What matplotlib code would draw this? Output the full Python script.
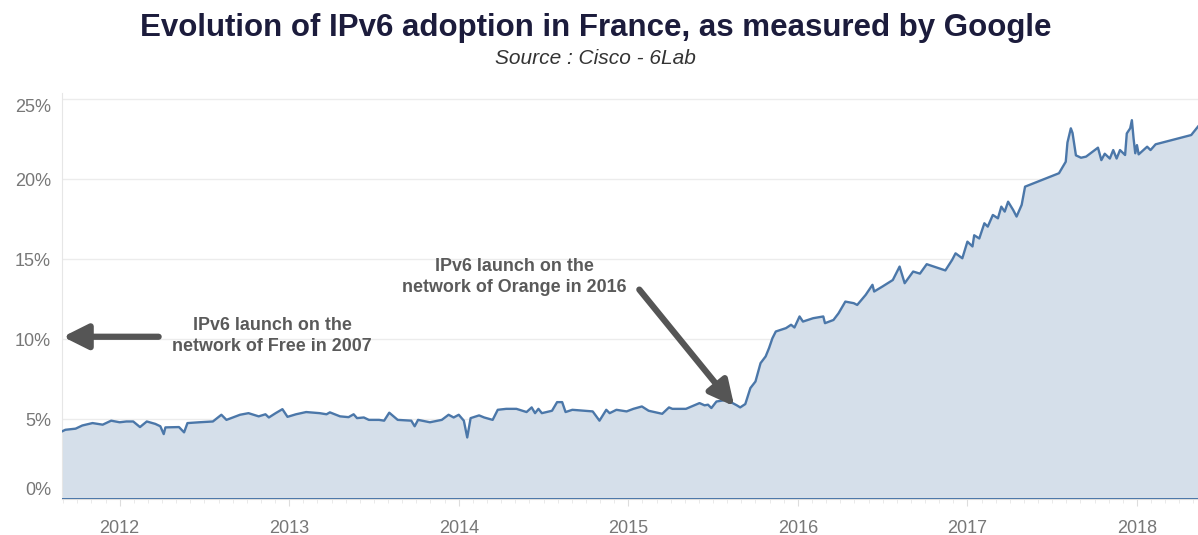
import matplotlib
matplotlib.use("Agg")
import matplotlib.pyplot as plt
from matplotlib.ticker import MultipleLocator, FixedLocator

# decimal year / IPv6 share in percent
years = [2011.66, 2011.68, 2011.74, 2011.78, 2011.84, 2011.90, 2011.95, 2012.00,
         2012.04, 2012.08, 2012.12, 2012.16, 2012.21, 2012.24, 2012.26, 2012.27,
         2012.35, 2012.38, 2012.40, 2012.47, 2012.55, 2012.60, 2012.63, 2012.71,
         2012.76, 2012.82, 2012.86, 2012.88, 2012.92, 2012.96, 2012.99, 2013.04,
         2013.10, 2013.18, 2013.22, 2013.24, 2013.30, 2013.35, 2013.38, 2013.40,
         2013.44, 2013.47, 2013.53, 2013.56, 2013.59, 2013.64, 2013.72, 2013.74,
         2013.76, 2013.83, 2013.90, 2013.94, 2013.97, 2014.00, 2014.03, 2014.05,
         2014.07, 2014.12, 2014.15, 2014.20, 2014.23, 2014.28, 2014.34, 2014.40,
         2014.43, 2014.45, 2014.47, 2014.49, 2014.55, 2014.58, 2014.61, 2014.63,
         2014.67, 2014.79, 2014.83, 2014.87, 2014.89, 2014.93, 2014.99, 2015.03,
         2015.08, 2015.12, 2015.20, 2015.24, 2015.26, 2015.34, 2015.42, 2015.45,
         2015.47, 2015.49, 2015.52, 2015.58, 2015.64, 2015.66, 2015.69, 2015.72,
         2015.75, 2015.78, 2015.81, 2015.83, 2015.85, 2015.87, 2015.93, 2015.96,
         2015.98, 2016.01, 2016.03, 2016.09, 2016.15, 2016.16, 2016.21, 2016.24,
         2016.28, 2016.33, 2016.35, 2016.40, 2016.44, 2016.45, 2016.50, 2016.56,
         2016.60, 2016.63, 2016.68, 2016.72, 2016.76, 2016.87, 2016.91, 2016.93,
         2016.97, 2017.00, 2017.03, 2017.04, 2017.07, 2017.10, 2017.12, 2017.15,
         2017.18, 2017.20, 2017.22, 2017.24, 2017.27, 2017.29, 2017.32, 2017.34,
         2017.54, 2017.58, 2017.59, 2017.61, 2017.62, 2017.64, 2017.67, 2017.70,
         2017.76, 2017.77, 2017.79, 2017.81, 2017.84, 2017.86, 2017.88, 2017.90,
         2017.93, 2017.94, 2017.96, 2017.97, 2017.98, 2017.99, 2018.00, 2018.01,
         2018.06, 2018.08, 2018.11, 2018.32, 2018.36]
share = [4.23, 4.33, 4.40, 4.60, 4.75, 4.65, 4.90, 4.80,
         4.85, 4.85, 4.50, 4.85, 4.70, 4.55, 4.06, 4.48,
         4.50, 4.17, 4.75, 4.80, 4.85, 5.27, 4.95, 5.27,
         5.37, 5.17, 5.30, 5.10, 5.37, 5.62, 5.14, 5.30,
         5.44, 5.37, 5.30, 5.42, 5.17, 5.12, 5.30, 5.06,
         5.10, 4.95, 4.95, 4.90, 5.40, 4.95, 4.90, 4.55,
         4.95, 4.80, 4.95, 5.27, 5.10, 5.27, 4.90, 3.85,
         5.06, 5.23, 5.10, 4.95, 5.58, 5.64, 5.64, 5.44,
         5.73, 5.37, 5.64, 5.37, 5.52, 6.06, 6.06, 5.44,
         5.58, 5.48, 4.90, 5.58, 5.37, 5.58, 5.48, 5.64,
         5.79, 5.52, 5.33, 5.73, 5.64, 5.64, 6.00, 5.86,
         5.90, 5.69, 6.10, 6.20, 5.86, 5.73, 5.94, 6.94,
         7.35, 8.50, 8.92, 9.44, 10.06, 10.48, 10.69, 10.90,
         10.73, 11.42, 11.10, 11.31, 11.42, 11.00, 11.20, 11.62,
         12.35, 12.25, 12.14, 12.77, 13.40, 12.98, 13.30, 13.70,
         14.54, 13.50, 14.23, 14.10, 14.69, 14.30, 14.96, 15.37,
         15.06, 16.10, 15.80, 16.50, 16.30, 17.25, 17.04, 17.77,
         17.56, 18.29, 17.98, 18.60, 18.08, 17.67, 18.40, 19.54,
         20.38, 21.10, 22.30, 23.19, 22.90, 21.50, 21.35, 21.42,
         21.90, 21.98, 21.20, 21.60, 21.30, 21.83, 21.30, 21.83,
         21.52, 22.87, 23.19, 23.70, 22.56, 21.63, 22.14, 21.56,
         22.04, 21.83, 22.19, 22.77, 23.30]

year_ticks = [2012, 2013, 2014, 2015, 2016, 2017, 2018]
pct_ticks = [0, 5, 10, 15, 20, 25]

line_col = "#4b77a9"
fill_col = "#d5dfea"
txt_col = "#5a5a5a"

plt.rcParams["font.family"] = ["Liberation Sans", "DejaVu Sans"]

fig = plt.figure(figsize=(11.98, 5.35), dpi=100)
ax = fig.add_axes([62 / 1198, 1 - 499 / 535, 1 - 62 / 1198, (499 - 93) / 535])

ax.fill_between(years, 0, share, color=fill_col, lw=0, zorder=2)
ax.plot(years, share, color=line_col, lw=1.7, zorder=3)
ax.axhline(0, color=line_col, lw=1.4, zorder=3)

ax.set_xlim(years[0], years[-1])
ax.set_ylim(0, 25.4)

ax.yaxis.set_major_locator(FixedLocator(pct_ticks))
ax.set_yticklabels([f"{p}%" for p in pct_ticks])
ax.grid(axis="y", color="#ececec", lw=1, zorder=1)
ax.tick_params(axis="y", length=0, labelsize=13, labelcolor="#777777", pad=8)
ylabels = ax.get_yticklabels()
ylabels[0].set_va("bottom")
ylabels[-1].set_va("top")

ax.xaxis.set_major_locator(FixedLocator(year_ticks))
ax.set_xticklabels([str(y) for y in year_ticks])
ax.xaxis.set_minor_locator(MultipleLocator(1 / 12))
ax.tick_params(axis="x", which="major", length=5, color="#dddddd",
               labelsize=13, labelcolor="#777777", pad=10)
ax.tick_params(axis="x", which="minor", length=3, color="#e6e6e6")

for s in ["top", "right"]:
    ax.spines[s].set_visible(False)
ax.spines["left"].set_color("#e6e6e6")
ax.spines["bottom"].set_color("#dddddd")

fig.text(0.497, 0.948, "Evolution of IPv6 adoption in France, as measured by Google",
         ha="center", va="center", fontsize=22.5, fontweight="bold", color="#1c1c3c")
fig.text(0.497, 0.891, "Source : Cisco - 6Lab", ha="center", va="center",
         fontsize=15, style="italic", color="#333333")

arrow = dict(arrowstyle="-|>,head_length=1.5,head_width=0.75", lw=4.5,
             color="#555555", shrinkA=0, shrinkB=0)
ax.annotate("", xy=(2011.665, 10.15), xytext=(2012.23, 10.15), arrowprops=arrow,
            zorder=5)
ax.text(2012.90, 10.2, "IPv6 launch on the\nnetwork of Free in 2007", ha="center",
        va="center", fontsize=12.9, fontweight="bold", color=txt_col, linespacing=1.3)
ax.annotate("", xy=(2015.625, 5.8), xytext=(2015.065, 13.1), arrowprops=arrow,
            zorder=5)
ax.text(2014.33, 13.9, "IPv6 launch on the\nnetwork of Orange in 2016", ha="center",
        va="center", fontsize=12.9, fontweight="bold", color=txt_col, linespacing=1.3)

fig.savefig("out.png", dpi=100, facecolor="white")
